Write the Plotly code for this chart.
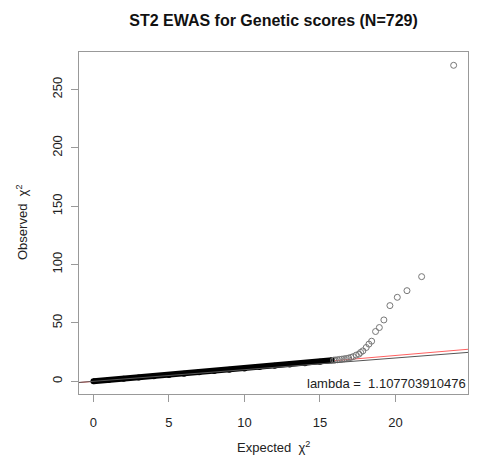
import plotly.graph_objects as go

# Dense body of the QQ plot (read along the solid black band)
band_expected = [0, 1, 2, 3, 4, 5, 6, 7, 8, 9, 10, 11, 12, 13, 14, 15, 15.8]
band_observed = [0, 1.1, 2.2, 3.3, 4.4, 5.5, 6.6, 7.8, 8.9, 10.0, 11.1, 12.2, 13.3, 14.4, 15.6, 16.8, 18.0]

# Sparse upper tail (individual open circles)
tail_expected = [15.9, 16.0, 16.15, 16.3, 16.45, 16.6, 16.75, 16.9, 17.05, 17.2, 17.4, 17.58,
                 17.69, 17.84, 18.06, 18.24, 18.42, 18.68, 18.93, 19.23, 19.63, 20.12, 20.76,
                 21.73, 23.85]
tail_observed = [18.1, 18.3, 18.5, 18.8, 19.0, 19.3, 19.6, 20.0, 20.5, 21.2, 22.5, 23.3,
                 24.8, 26.1, 29.0, 31.9, 34.4, 42.7, 46.1, 52.6, 64.9, 72.0, 77.7,
                 89.7, 270.8]

lambda_value = 1.107703910476
x_ticks = [0, 5, 10, 15, 20]
y_ticks = [0, 50, 100, 150, 200, 250]

x_range = [-0.954, 24.8]
y_range = [-10.85, 282.2]

FONT = "Liberation Sans, Arial, Helvetica, sans-serif"
TXT = 13

fig = go.Figure()

# lambda line y = lambda*x (red), underneath the points
fig.add_trace(go.Scatter(x=x_range, y=[lambda_value * v for v in x_range], mode="lines",
                         line=dict(color="#ff6060", width=1), hoverinfo="skip", showlegend=False))

fig.add_trace(go.Scatter(x=band_expected, y=band_observed, mode="lines+markers",
                         line=dict(color="black", width=6),
                         marker=dict(color="black", size=6, symbol="circle"),
                         hoverinfo="x+y", showlegend=False))

fig.add_trace(go.Scatter(x=tail_expected, y=tail_observed, mode="markers",
                         marker=dict(symbol="circle-open", size=6, color="#777777",
                                     line=dict(width=1, color="#777777")),
                         showlegend=False))

# identity line y = x
fig.add_trace(go.Scatter(x=x_range, y=[v for v in x_range], mode="lines",
                         line=dict(color="#555555", width=1), hoverinfo="skip", showlegend=False))

axis_common = dict(
    showgrid=False, zeroline=False, showline=True, mirror=True,
    linecolor="#999999", linewidth=1,
    ticks="outside", ticklen=7, tickcolor="#999999", tickwidth=1,
    tickfont=dict(family=FONT, size=TXT, color="#222222"),
)

fig.update_layout(
    width=481, height=461,
    margin=dict(l=79, r=13, t=52, b=67),
    plot_bgcolor="white", paper_bgcolor="white",
    font=dict(family=FONT, size=TXT, color="#222222"),
    title=dict(text="<b>ST2 EWAS for Genetic scores (N=729)</b>",
               x=0.5, xref="paper", xanchor="center",
               y=1 - 20 / 461, yref="container", yanchor="middle",
               font=dict(family=FONT, size=16, color="#111111")),
    xaxis=dict(range=x_range, tickvals=x_ticks, ticktext=[str(t) for t in x_ticks],
               ticklabelstandoff=9, **axis_common),
    yaxis=dict(range=y_range, tickvals=y_ticks, ticktext=[str(t) for t in y_ticks],
               tickangle=-90, ticklabelstandoff=4, **axis_common),
    annotations=[
        dict(text="Expected  χ<sup>2</sup>", xref="paper", yref="paper",
             x=0.5, y=(394 - 447) / 342, xanchor="center", yanchor="middle",
             showarrow=False, font=dict(family=FONT, size=TXT, color="#222222")),
        dict(text="Observed  χ<sup>2</sup>", xref="paper", yref="paper",
             x=(22 - 79) / 389, y=0.5, xanchor="center", yanchor="middle", textangle=-90,
             showarrow=False, font=dict(family=FONT, size=TXT, color="#222222")),
        dict(text="lambda =\u00a0 " + str(lambda_value), xref="paper", yref="paper",
             x=1, y=(394 - 383.3) / 342, xanchor="right", yanchor="middle",
             showarrow=False, font=dict(family=FONT, size=TXT, color="#222222")),
    ],
)

fig.write_html("out.html", config={"displayModeBar": False},
               post_script="document.body.style.margin='0';")
